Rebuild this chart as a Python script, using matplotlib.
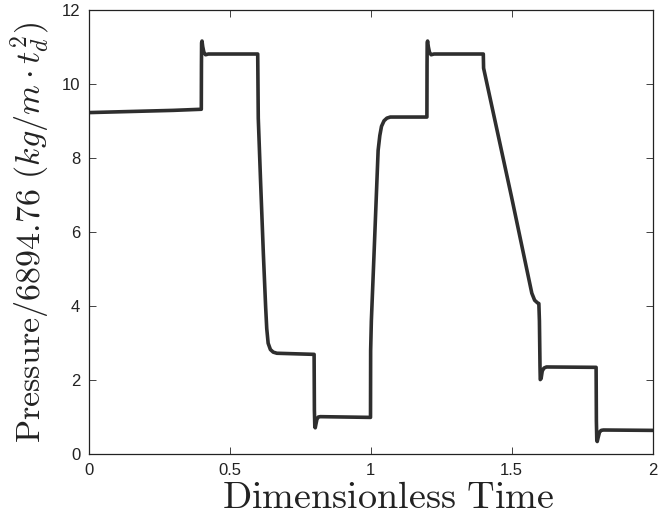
import matplotlib
matplotlib.use("Agg")
import matplotlib.pyplot as plt

plt.rcParams['mathtext.fontset'] = 'cm'
plt.rcParams['font.family'] = ['Liberation Sans', 'DejaVu Sans']

# Dimensionless time samples
time = [0.0, 0.1, 0.2, 0.3, 0.4,
        0.4005, 0.401, 0.4025, 0.405, 0.409, 0.415, 0.425, 0.6,
        0.602, 0.61, 0.62, 0.628, 0.632, 0.637, 0.645, 0.655, 0.668, 0.8,
        0.801, 0.8025, 0.804, 0.806, 0.81, 0.815, 0.822, 1.0,
        1.0005, 1.003, 1.013, 1.027, 1.033, 1.039, 1.048, 1.058, 1.07, 1.2,
        1.2005, 1.201, 1.2025, 1.205, 1.209, 1.215, 1.225, 1.4,
        1.401, 1.5, 1.572, 1.582, 1.592, 1.597, 1.599,
        1.601, 1.602, 1.605, 1.609, 1.615, 1.624, 1.8,
        1.801, 1.8025, 1.804, 1.807, 1.812, 1.818, 1.826, 2.0]

# Pressure / 6894.76
pressure = [9.22, 9.24, 9.26, 9.28, 9.31,
            10.5, 11.1, 11.15, 11.0, 10.85, 10.78, 10.8, 10.8,
            9.07, 7.4, 5.42, 4.0, 3.4, 3.0, 2.83, 2.76, 2.73, 2.7,
            1.2, 0.75, 0.72, 0.8, 0.95, 1.01, 1.02, 1.0,
            2.8, 3.6, 5.5, 8.2, 8.6, 8.85, 9.0, 9.07, 9.1, 9.1,
            10.5, 11.1, 11.15, 11.0, 10.85, 10.78, 10.8, 10.8,
            10.42, 6.95, 4.35, 4.16, 4.09, 4.07, 3.6,
            2.4, 2.02, 2.05, 2.25, 2.33, 2.36, 2.35,
            0.9, 0.37, 0.35, 0.45, 0.6, 0.65, 0.66, 0.65]

xticks = [0, 0.5, 1, 1.5, 2]
xticklabels = ['0', '0.5', '1', '1.5', '2']
yticks = [0, 2, 4, 6, 8, 10, 12]

fig = plt.figure(figsize=(6.68, 5.2), dpi=100)
ax = fig.add_axes([0.1325, 0.126, 0.8443, 0.8557])
ax.plot(time, pressure, color='#2e2e2e', linewidth=2.6, solid_joinstyle='round')

ax.set_xlim(0, 2)
ax.set_ylim(0, 12)
ax.set_xticks(xticks)
ax.set_xticklabels(xticklabels)
ax.set_yticks(yticks)
ax.tick_params(direction='in', length=5, width=0.6, top=True, right=True,
               labelsize=12, pad=6, colors='#222222')
for s in ax.spines.values():
    s.set_linewidth(0.9)
    s.set_color('#222222')

ax.set_xlabel(r'$\mathrm{Dimensionless\ Time}$', fontsize=27.5, color='#222222')
ax.set_ylabel(r'$\mathrm{Pressure}/6894.76\ (kg/m\cdot t_d^2)$', fontsize=24.5, color='#222222')
ax.xaxis.set_label_coords(0.531, -0.058, transform=ax.transAxes)
ax.xaxis.label.set_va('top')
ax.yaxis.set_label_coords(-0.103, 0.5, transform=ax.transAxes)
ax.yaxis.label.set_va('center')

fig.savefig('out.png', dpi=100)
